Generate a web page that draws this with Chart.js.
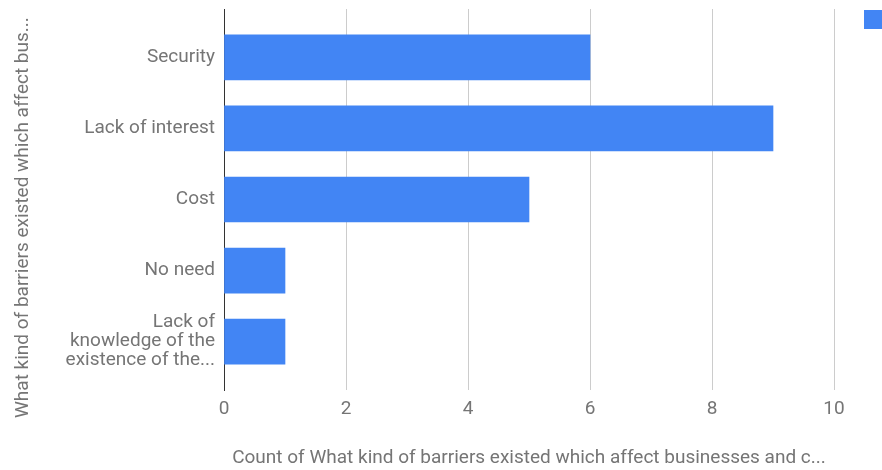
<!DOCTYPE html>
<html>
<head>
<meta charset="utf-8">
<script src="https://cdn.jsdelivr.net/npm/chart.js@4/dist/chart.umd.min.js"></script>
<style>
  html, body { margin: 0; padding: 0; background: #fff; overflow: hidden; }
  #wrap { width: 882px; height: 470px; position: relative; }
</style>
</head>
<body>
<div id="wrap"><canvas id="barrierChart"></canvas></div>
<script>
const categories = [
    ['Security'],
    ['Lack of interest'],
    ['Cost'],
    ['No need'],
    ['Lack of', 'knowledge of the', 'existence of the...']
];
const counts = [6, 9, 5, 1, 1];
const xTicks = [0, 2, 4, 6, 8, 10];
const seriesName = 'Count of What kind of barriers existed which affect businesses and c...';
const yTitle = 'What kind of barriers existed which affect bus...';

const BLUE = '#4285f4';
const GREY = '#757575';
const FONT = 'Roboto, "Noto Sans", sans-serif';
const SIZE = 19;

// legend swatch in the top right corner, plus the rotated category title
const extras = {
    id: 'extras',
    afterDraw(chart) {
        const ctx = chart.ctx;
        const x = chart.chartArea.right + 30;
        ctx.save();
        ctx.fillStyle = BLUE;
        ctx.fillRect(x, 10, 19, 19);
        ctx.fillStyle = GREY;
        ctx.font = SIZE + 'px ' + FONT;
        ctx.textBaseline = 'middle';
        ctx.fillText(seriesName, x + 26, 20);

        ctx.translate(28, chart.chartArea.bottom + 28);
        ctx.rotate(-Math.PI / 2);
        ctx.textAlign = 'left';
        ctx.textBaseline = 'alphabetic';
        ctx.fillText(yTitle, 0, 0);
        ctx.restore();
    }
};

const points = counts.map((v, i) => ({ x: v, y: i }));

new Chart(document.getElementById('barrierChart').getContext('2d'), {
    type: 'bar',
    data: {
        datasets: [{
            label: seriesName,
            data: points,
            backgroundColor: BLUE,
            borderWidth: 0,
            barThickness: 45
        }]
    },
    options: {
        responsive: true,
        maintainAspectRatio: false,
        animation: false,
        indexAxis: 'y',
        layout: { padding: { top: 9, right: 48, left: 0, bottom: 0 } },
        plugins: {
            legend: { display: false },
            tooltip: { enabled: false }
        },
        scales: {
            x: {
                type: 'linear',
                min: 0,
                max: 10,
                afterBuildTicks: scale => { scale.ticks = xTicks.map(v => ({ value: v })); },
                grid: { color: '#cccccc', drawTicks: false },
                border: { display: false },
                ticks: { color: GREY, padding: 8, font: { family: FONT, size: SIZE } },
                title: {
                    display: true,
                    text: seriesName,
                    color: GREY,
                    font: { family: FONT, size: SIZE },
                    padding: { top: 20, bottom: 0 }
                },
                afterFit: scale => { scale.height = 80; }
            },
            y: {
                type: 'linear',
                reverse: true,
                offset: false,
                min: -0.68,
                max: 4.68,
                afterBuildTicks: scale => { scale.ticks = categories.map((c, i) => ({ value: i })); },
                grid: { display: false, drawTicks: false, offset: false },
                border: { display: true, color: '#333333', width: 1 },
                ticks: {
                    color: GREY,
                    padding: 9,
                    font: { family: FONT, size: SIZE, lineHeight: 1 },
                    callback: v => categories[v]
                },
                afterFit: scale => {
                    scale.width = 224;
                    scale.paddingTop = 0;
                    scale.paddingBottom = 0;
                }
            }
        }
    },
    plugins: [extras]
});
</script>
</body>
</html>
